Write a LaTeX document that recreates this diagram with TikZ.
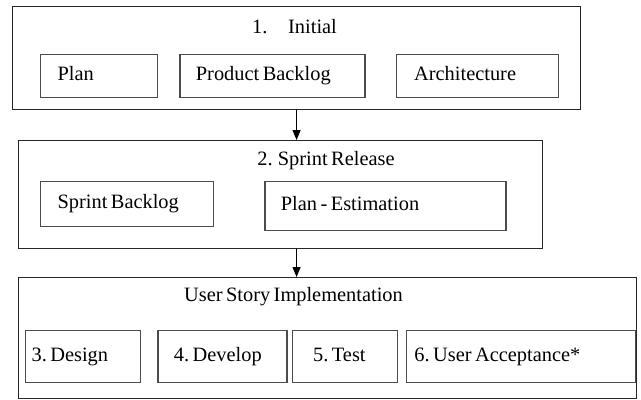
\documentclass[tikz,border=0pt]{standalone}
\usepackage{fontspec}
\setmainfont{Liberation Serif}
\usepackage{tikz}
\usetikzlibrary{arrows.meta}
\usetikzlibrary{positioning}
\newcommand{\fonte}{\fontsize{14.5}{17}\selectfont\spaceskip=0.17em plus 0.05em}
\tikzset{
  bloco/.style={draw=black!70, line width=0.9pt, text width=#1, align=left, anchor=north west, inner ysep=0pt, text height=10pt, text depth=3.5pt, font=\fonte, execute at begin node={\spaceskip=0.17em plus 0.05em\xspaceskip=0.17em}},
  bloco/.default=2cm,
  moldura/.style={draw=black!85, line width=0.8pt, anchor=north west, inner sep=0pt},
  titulo/.style={font=\fonte},
  flecha/.style={-{Triangle[length=0.25cm,width=0.2cm]}, line width=0.8pt},
}

\begin{document}
\begin{tikzpicture}
  \useasboundingbox (0,0) rectangle (16.025,-9.975);
  \node[moldura, minimum width=14.2cm, minimum height=2.575cm] (initial) at (0.3,-0.15) {};
  \node[titulo] (t1) at (7.3625,-0.675) {1.\hspace{0.52cm}Initial};
  \node[bloco=2.075cm, inner xsep=0.425cm, minimum height=1.075cm] (plan) at (1.0,-1.35) {Plan};
  \node[bloco=3.825cm, inner xsep=0.4cm, minimum height=1.075cm, right=0.525cm of plan] (backlog) {Product Backlog};
  \node[bloco=3.15cm, inner xsep=0.45cm, minimum height=1.075cm, right=0.75cm of backlog] (arch) {Architecture};

  \node[moldura, minimum width=13.1cm, minimum height=2.7cm] (sprint) at (0.45,-3.5) {};
  \node[titulo] (t2) at (8.15,-4.025) {2. Sprint Release};
  \node[bloco=3.475cm, inner xsep=0.425cm, minimum height=1.125cm] (sprintbl) at (1.0,-4.525) {Sprint Backlog};
  \node[bloco=5.225cm, inner xsep=0.4cm, minimum height=1.225cm, right=1.25cm of sprintbl.north east, anchor=north west] (estim) {Plan - Estimation};

  \node[moldura, minimum width=15.45cm, minimum height=3.025cm] (story) at (0.45,-6.925) {};
  \node[titulo] (t3) at (7.3375,-7.425) {User Story Implementation};
  \node[bloco=2.575cm, inner xsep=0.15cm, minimum height=1.3cm] (design) at (0.625,-8.25) {3. Design};
  \node[bloco=2.425cm, inner xsep=0.4cm, minimum height=1.3cm, right=0.4cm of design] (develop) {4. Develop};
  \node[bloco=1.575cm, inner xsep=0.525cm, minimum height=1.3cm, right=0.1cm of develop] (test) {5. Test};
  \node[bloco=5.325cm, inner xsep=0.2cm, minimum height=1.3cm, right=0.2cm of test] (accept) {6. User Acceptance*};

  \draw[flecha] (initial.south) -- (initial.south |- sprint.north);
  \draw[flecha] (initial.south |- sprint.south) -- (initial.south |- story.north);
\end{tikzpicture}
\end{document}
